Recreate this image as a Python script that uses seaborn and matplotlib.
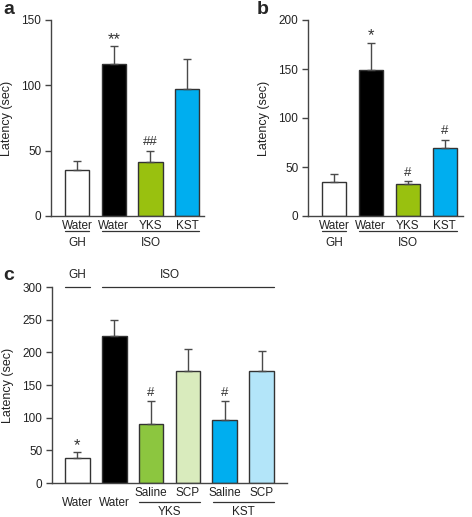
import matplotlib
matplotlib.use("Agg")
import matplotlib.pyplot as plt
import seaborn as sns
import numpy as np
import pandas as pd
from matplotlib.transforms import blended_transform_factory

sns.set_style("white")
plt.rcParams['font.family'] = ['Liberation Sans', 'DejaVu Sans']

# ---------- data ----------
a_keys = ["GH Water", "ISO Water", "ISO YKS", "ISO KST"]
a_ticks = ["Water", "Water", "YKS", "KST"]
a_vals = [35, 116, 41.5, 97]
a_errs = [7, 14, 8.5, 23]
a_marks = ["", "**", "##", ""]
a_colors = ["#ffffff", "#000000", "#99c10f", "#00aeef"]

b_keys = ["GH Water", "ISO Water", "ISO YKS", "ISO KST"]
b_ticks = ["Water", "Water", "YKS", "KST"]
b_vals = [35, 149, 32.5, 69.5]
b_errs = [7.5, 28, 3, 8.5]
b_marks = ["", "*", "#", "#"]
b_colors = ["#ffffff", "#000000", "#99c10f", "#00aeef"]

c_keys = ["GH Water", "ISO Water", "YKS Saline", "YKS SCP", "KST Saline", "KST SCP"]
c_ticks = ["Water", "Water", "Saline", "SCP", "Saline", "SCP"]
c_vals = [39, 225, 90, 172, 97, 171]
c_errs = [8, 25, 35, 33, 28, 31]
c_marks = ["*", "", "#", "", "#", ""]
c_colors = ["#ffffff", "#000000", "#8cc63f", "#d9ebbd", "#00aeef", "#b3e5f9"]

W, H = 472, 517
fig = plt.figure(figsize=(W / 100, H / 100), dpi=100)

EDGE = "#333333"
FS = 8.5
PX = 72 / 100  # points per pixel


def make_ax(x0, x1, ytop, ybot):
    return fig.add_axes([x0 / W, 1 - ybot / H, (x1 - x0) / W, (ybot - ytop) / H])


def draw_panel(ax, keys, vals, errs, colors, marks, ymax, yticks, xlim, width):
    df = pd.DataFrame({"key": keys, "val": vals})
    sns.barplot(data=df, x="key", y="val", hue="key", palette=colors, order=keys,
                hue_order=keys, legend=False, width=width, edgecolor=EDGE,
                linewidth=1.0, ax=ax, errorbar=None, saturation=1)
    xs = np.arange(len(keys))
    ax.errorbar(xs, vals, yerr=[np.zeros(len(vals)), errs], fmt="none",
                ecolor="#4a4a4a", elinewidth=1.0, capsize=2.6, capthick=1.0, zorder=1)
    for x, v, e, m in zip(xs, vals, errs, marks):
        if m:
            star = m.startswith("*")
            off = 10 if star else 8.5
            ax.annotate(m, (x, v + e), xytext=(0, (off - (3 if star else 0)) * PX),
                        textcoords="offset points", ha="center", va="center",
                        fontsize=12 if star else 9.5, color="#333333")
    ax.set_ylim(0, ymax)
    ax.set_xlim(*xlim)
    ax.set_yticks(yticks)
    ax.set_yticklabels([str(t) for t in yticks], fontsize=FS, color="#222222")
    ax.set_xticks([])
    ax.set_xlabel("")
    ax.set_ylabel("Latency (sec)", fontsize=FS + 0.5, labelpad=6, color="#222222")
    sns.despine(ax=ax)
    for s in ("left", "bottom"):
        ax.spines[s].set_color("#444444")
        ax.spines[s].set_linewidth(1.0)
    ax.tick_params(axis="y", direction="out", length=4, width=1.0, color="#444444",
                   pad=3, left=True)


def label_px(ax, x, dy_px, text, **kw):
    tr = blended_transform_factory(ax.transData, ax.transAxes)
    ax.annotate(text, (x, 0), xycoords=tr, xytext=(0, -dy_px * PX),
                textcoords="offset points", ha="center", va="center",
                fontsize=FS, color="#222222", annotation_clip=False, **kw)


def line_px(ax, x0, x1, dy_px, top=False):
    tr = blended_transform_factory(ax.transData, ax.transAxes)
    h = ax.get_position().height * H
    y = (1 + dy_px / h) if top else (-dy_px / h)
    ax.plot([x0, x1], [y, y], color="#333333", lw=0.9, transform=tr, clip_on=False)


# panel a
axa = make_ax(51, 204, 20, 216)
draw_panel(axa, a_keys, a_vals, a_errs, a_colors, a_marks, 150, [0, 50, 100, 150],
           (-0.71, 3.46), 0.66)
for i, t in enumerate(a_ticks):
    label_px(axa, i, 10, t)
line_px(axa, -0.33, 0.33, 15)
line_px(axa, 0.67, 3.33, 15)
label_px(axa, 0, 27, "GH")
label_px(axa, 2, 27, "ISO")

# panel b
axb = make_ax(308, 463, 20, 216)
draw_panel(axb, b_keys, b_vals, b_errs, b_colors, b_marks, 200, [0, 50, 100, 150, 200],
           (-0.70, 3.49), 0.66)
for i, t in enumerate(b_ticks):
    label_px(axb, i, 10, t)
line_px(axb, -0.33, 0.33, 15)
line_px(axb, 0.67, 3.33, 15)
label_px(axb, 0, 27, "GH")
label_px(axb, 2, 27, "ISO")

# panel c
axc = make_ax(52, 287, 287, 483)
draw_panel(axc, c_keys, c_vals, c_errs, c_colors, c_marks, 300,
           [0, 50, 100, 150, 200, 250, 300], (-0.69, 5.69), 0.67)
for i, t in enumerate(c_ticks):
    label_px(axc, i, 20 if t == "Water" else 10, t)
line_px(axc, 1.67, 3.33, 19)
line_px(axc, 3.67, 5.33, 19)
tr = blended_transform_factory(axc.transData, axc.transAxes)
label_px(axc, 2.5, 29, "YKS")
label_px(axc, 4.5, 29, "KST")
line_px(axc, -0.33, 0.33, 0, top=True)
line_px(axc, 0.67, 5.33, 0, top=True)
for x, t in ((0, "GH"), (2.5, "ISO")):
    axc.annotate(t, (x, 1), xycoords=tr, xytext=(0, 12 * PX), textcoords="offset points",
                 ha="center", va="center", fontsize=FS, color="#222222",
                 annotation_clip=False)

# panel letters
for txt, x, y in (("a", 3, 9), ("b", 257, 9), ("c", 3, 275)):
    fig.text(x / W, 1 - y / H, txt, fontsize=14, fontweight="bold", va="center", ha="left")

fig.savefig("out.png", dpi=100)
